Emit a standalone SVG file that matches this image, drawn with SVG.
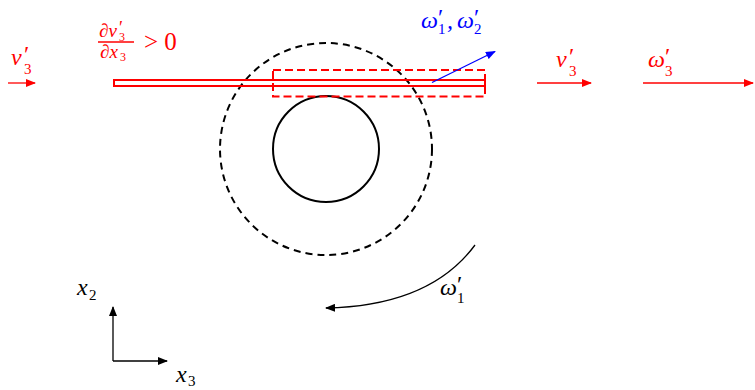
<svg xmlns="http://www.w3.org/2000/svg" width="755" height="390" viewBox="0 0 755 390">
<style>
.m{font-family:"Liberation Serif","DejaVu Serif",serif;font-style:italic;font-size:24px}
.s{font-style:normal;font-size:15px}
.p{font-style:normal;font-size:24px}
.n{font-family:"Liberation Serif","DejaVu Serif",serif;font-style:normal;font-size:25px}
.r{fill:#ff0000}
.b{fill:#0000ff}
.k{fill:#000}
.ar{fill:none;stroke-width:1.3}
</style>
<defs>
<marker id="ak" viewBox="0 0 10 8" refX="9" refY="4" markerWidth="10" markerHeight="8" markerUnits="userSpaceOnUse" orient="auto"><path d="M0,0 L10,4 L0,8 Z" fill="#000"/></marker>
<marker id="arr" viewBox="0 0 10 8" refX="9" refY="4" markerWidth="10" markerHeight="8" markerUnits="userSpaceOnUse" orient="auto"><path d="M0,0 L10,4 L0,8 Z" fill="#ff0000"/></marker>
<marker id="ab" viewBox="0 0 10 8" refX="9" refY="4" markerWidth="10" markerHeight="8" markerUnits="userSpaceOnUse" orient="auto"><path d="M0,0 L10,4 L0,8 Z" fill="#0000ff"/></marker>
</defs>

<g id="outer-circle"><circle cx="326" cy="149" r="106" fill="none" stroke="#000" stroke-width="2" stroke-dasharray="7 5"/></g>
<g id="inner-circle"><circle cx="326" cy="149" r="53" fill="none" stroke="#000" stroke-width="2"/></g>
<g id="plate"><rect x="114" y="80" width="371" height="6" fill="none" stroke="#ff0000" stroke-width="2"/></g>
<g id="dashed-box"><rect x="273" y="70" width="212" height="26.5" fill="none" stroke="#ff0000" stroke-width="2" stroke-dasharray="8 4"/></g>

<g id="connectors">
<line class="ar" x1="8" y1="83" x2="35" y2="83" stroke="#ff0000" marker-end="url(#arr)"/>
<line class="ar" x1="537" y1="83" x2="591" y2="83" stroke="#ff0000" marker-end="url(#arr)"/>
<line class="ar" x1="643" y1="83" x2="753" y2="83" stroke="#ff0000" marker-end="url(#arr)"/>
<line class="ar" x1="432" y1="82.5" x2="495" y2="51.5" stroke="#0000ff" marker-end="url(#ab)"/>
<path class="ar" d="M475,245 Q430,306 326,308" stroke="#000" marker-end="url(#ak)"/>
<line class="ar" x1="113" y1="361" x2="113" y2="307" stroke="#000" marker-end="url(#ak)"/>
<line class="ar" x1="113" y1="361" x2="167" y2="361" stroke="#000" marker-end="url(#ak)"/>
</g>

<g id="label-v3-left">
<text class="m r" x="11" y="65">v<tspan class="p" x="24" y="62">′</tspan><tspan class="s" x="24" y="74">3</tspan></text>
</g>
<g id="label-grad">
<text class="m r" style="font-size:19px" x="99" y="37">∂v<tspan class="p" style="font-size:18px" x="119" y="34">′</tspan><tspan class="s" style="font-size:12px" x="119" y="41">3</tspan><tspan x="100" y="58">∂x</tspan><tspan class="s" style="font-size:12px" x="120" y="61">3</tspan></text>
<line x1="98" y1="42" x2="134" y2="42" stroke="#ff0000" stroke-width="1.3"/>
<text class="n r" x="144" y="50">&gt; 0</text>
</g>
<g id="label-omega12">
<text class="m b" x="421" y="28">ω<tspan class="p" x="438" y="25">′</tspan><tspan class="s" x="438" y="34">1</tspan><tspan x="447" y="28">,</tspan><tspan x="457" y="28">ω</tspan><tspan class="p" x="474" y="25">′</tspan><tspan class="s" x="474" y="34">2</tspan></text>
</g>
<g id="label-v3-right">
<text class="m r" x="556" y="67">v<tspan class="p" x="569" y="64">′</tspan><tspan class="s" x="569" y="76">3</tspan></text>
</g>
<g id="label-omega3">
<text class="m r" x="648" y="67">ω<tspan class="p" x="665" y="64">′</tspan><tspan class="s" x="665" y="76">3</tspan></text>
</g>
<g id="label-omega1">
<text class="m k" x="440" y="295">ω<tspan class="p" x="457" y="292">′</tspan><tspan class="s" x="457" y="303">1</tspan></text>
</g>
<g id="label-x2">
<text class="m k" x="77" y="295">x<tspan class="s" x="89" y="300">2</tspan></text>
</g>
<g id="label-x3">
<text class="m k" x="176" y="382">x<tspan class="s" x="188" y="386">3</tspan></text>
</g>
</svg>
